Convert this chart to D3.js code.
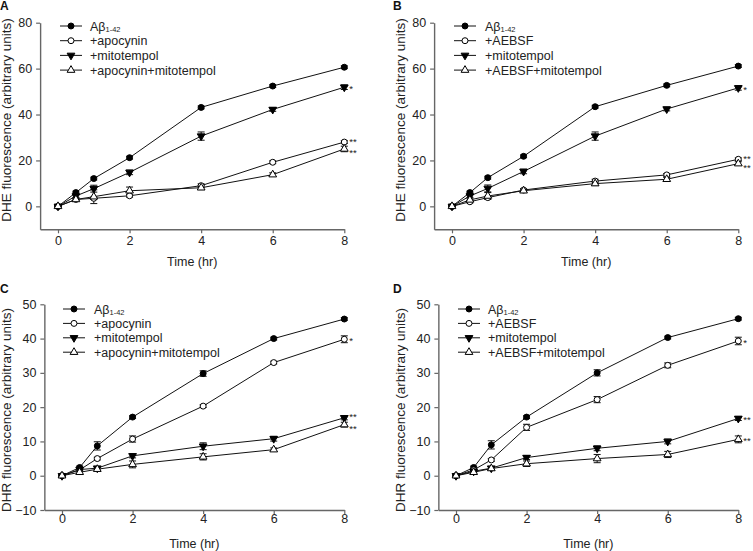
<!DOCTYPE html>
<html><head><meta charset="utf-8">
<script src="https://cdn.jsdelivr.net/npm/d3@7"></script>
<style>
body{margin:0;background:#fff;}
svg{display:block;font-family:"Liberation Sans",Arial,sans-serif;}
</style></head>
<body><svg id="c" width="753" height="551"></svg>
<script>
// ---- data ----
const times = [0, 0.5, 1, 2, 4, 6, 8];
const xTicks = [0, 2, 4, 6, 8];
const dheTicks = [0, 20, 40, 60, 80];
const dhrTicks = [-10, 0, 10, 20, 30, 40, 50];
const panelLetters = ["A", "B", "C", "D"];
const yTitles = ["DHE fluorescence (arbitrary units)", "DHE fluorescence (arbitrary units)",
                 "DHR fluorescence (arbitrary units)", "DHR fluorescence (arbitrary units)"];
const xTitle = "Time (hr)";
const legendA = ["+apocynin", "+mitotempol", "+apocynin+mitotempol"];
const legendB = ["+AEBSF", "+mitotempol", "+AEBSF+mitotempol"];

// Panel A (DHE, apocynin)
const aAbeta   = [0, 6.0, 12.1, 21.2, 43.1, 52.4, 60.6];
const aInhib   = [0, 3.0, 3.5, 4.6, 9.0, 19.2, 28.0];
const aMito    = [0, 4.5, 7.7, 14.8, 30.6, 42.2, 51.9];
const aBoth    = [0, 3.0, 4.2, 6.8, 8.1, 13.8, 25.0];
const aAbetaE  = [0.3, 0.6, 0.6, 0.6, 0.6, 0.6, 0.6];
const aInhibE  = [0.3, 0.5, 0.5, 0.6, 0.8, 0.6, 0.6];
const aMitoE   = [0.3, 0.6, 1.5, 1.0, 1.8, 0.8, 1.0];
const aBothE   = [0.3, 0.5, 3.0, 1.6, 0.8, 0.8, 1.2];
const aStars   = ["", "**", "*", "**"];
// Panel B (DHE, AEBSF)
const bAbeta   = [0, 6.0, 12.5, 21.8, 43.4, 52.7, 61.1];
const bInhib   = [0, 2.0, 3.8, 7.1, 11.0, 13.7, 20.5];
const bMito    = [0, 4.5, 7.8, 15.2, 30.6, 42.4, 51.6];
const bBoth    = [0, 2.8, 4.5, 6.8, 9.9, 11.8, 18.6];
const bAbetaE  = [0.3, 0.6, 0.6, 0.6, 0.6, 0.6, 0.6];
const bInhibE  = [0.3, 0.5, 0.6, 0.6, 0.8, 0.6, 0.6];
const bMitoE   = [0.3, 0.6, 1.5, 1.0, 1.8, 0.8, 1.0];
const bBothE   = [0.3, 0.5, 1.5, 0.8, 0.8, 0.8, 0.8];
const bStars   = ["", "**", "*", "**"];
// Panel C (DHR, apocynin)
const cAbeta   = [0, 2.4, 8.7, 17.1, 29.8, 40.0, 45.7];
const cInhib   = [0, 1.7, 5.0, 10.7, 20.3, 33.0, 39.8];
const cMito    = [0, 1.8, 2.2, 5.8, 8.6, 10.8, 16.9];
const cBoth    = [0, 1.0, 1.9, 3.3, 5.5, 7.6, 14.9];
const cAbetaE  = [0.2, 0.4, 1.2, 0.4, 0.8, 0.4, 0.4];
const cInhibE  = [0.2, 0.4, 0.4, 0.9, 0.4, 0.4, 1.0];
const cMitoE   = [0.2, 0.4, 0.5, 0.6, 1.0, 0.7, 0.6];
const cBothE   = [0.2, 0.4, 0.5, 1.0, 0.9, 0.5, 0.7];
const cStars   = ["", "*", "**", "**"];
// Panel D (DHR, AEBSF)
const dAbeta   = [0, 2.4, 9.0, 17.1, 30.0, 40.3, 45.8];
const dInhib   = [0, 1.7, 4.6, 14.1, 22.2, 32.2, 39.3];
const dMito    = [0, 1.3, 2.2, 5.3, 8.0, 10.0, 16.7];
const dBoth    = [0, 1.0, 2.1, 3.5, 5.0, 6.2, 10.6];
const dAbetaE  = [0.2, 0.4, 1.2, 0.4, 0.9, 0.4, 0.4];
const dInhibE  = [0.2, 0.4, 0.4, 0.9, 0.9, 0.7, 1.1];
const dMitoE   = [0.2, 0.4, 0.5, 0.6, 0.7, 0.7, 0.6];
const dBothE   = [0.2, 0.4, 0.5, 0.8, 1.2, 0.9, 1.0];
const dStars   = ["", "*", "**", "**"];

// ---- layout ----
const panels = [
  {letter:0, lx:0, ly:10, x0:58, x8:344.3, yTop:22.7, yBot:229.3, yDom:[-10,80], ticks:dheTicks,
   titleX:7, titleY:120, xlabY:245, xtitleY:266, legX:60, legTextX:90, legY:26, legDy:14.7,
   names:legendA, vals:[aAbeta,aInhib,aMito,aBoth], errs:[aAbetaE,aInhibE,aMitoE,aBothE], stars:aStars},
  {letter:1, lx:393, ly:10, x0:452, x8:738.3, yTop:22.7, yBot:229.3, yDom:[-10,80], ticks:dheTicks,
   titleX:401, titleY:120, xlabY:245, xtitleY:266, legX:454, legTextX:485, legY:26, legDy:14.7,
   names:legendB, vals:[bAbeta,bInhib,bMito,bBoth], errs:[bAbetaE,bInhibE,bMitoE,bBothE], stars:bStars},
  {letter:2, lx:0, ly:293, x0:62, x8:344.3, yTop:304.3, yBot:510, yDom:[-10,50], ticks:dhrTicks,
   titleX:7, titleY:410, xlabY:523, xtitleY:548, legX:63, legTextX:94, legY:309, legDy:14.4,
   names:legendA, vals:[cAbeta,cInhib,cMito,cBoth], errs:[cAbetaE,cInhibE,cMitoE,cBothE], stars:cStars},
  {letter:3, lx:393, ly:293, x0:456, x8:738.3, yTop:304.3, yBot:510, yDom:[-10,50], ticks:dhrTicks,
   titleX:401, titleY:410, xlabY:523, xtitleY:548, legX:458, legTextX:488, legY:309, legDy:14.4,
   names:legendB, vals:[dAbeta,dInhib,dMito,dBoth], errs:[dAbetaE,dInhibE,dMitoE,dBothE], stars:dStars}
];

const svg = d3.select("#c");
const symCircle = d3.symbol().type(d3.symbolCircle).size(28)();
const symTri = d3.symbol().type(d3.symbolTriangle).size(26)();
const styles = [
  {path:symCircle, fill:"#000", rot:0},
  {path:symCircle, fill:"#fff", rot:0},
  {path:symTri, fill:"#000", rot:180},
  {path:symTri, fill:"#fff", rot:0}
];

function drawMarker(g, x, y, s) {
  g.append("path").attr("d", s.path)
    .attr("transform", `translate(${x},${y}) rotate(${s.rot})`)
    .attr("fill", s.fill).attr("stroke", "#000").attr("stroke-width", 1);
}

panels.forEach(p => {
  const perHr = (p.x8 - p.x0) / 8;
  const x = d3.scaleLinear().domain([-0.5, 8]).range([p.x0 - 0.5 * perHr, p.x8]);
  const y = d3.scaleLinear().domain(p.yDom).range([p.yBot, p.yTop]);
  const g = svg.append("g");

  // axes
  const xAxis = d3.axisBottom(x).tickValues(xTicks).tickSizeOuter(0).tickSizeInner(4).tickPadding(6).tickFormat(d3.format("d"));
  const gx = g.append("g").attr("transform", `translate(0,${p.yBot})`).call(xAxis);
  const yAxis = d3.axisLeft(y).tickValues(p.ticks).tickSizeOuter(0).tickSizeInner(4).tickPadding(4).tickFormat(d3.format("d"));
  const gy = g.append("g").attr("transform", `translate(${x(-0.5)},0)`).call(yAxis);
  [gx, gy].forEach(a => {
    a.select(".domain").attr("stroke", "#666").attr("stroke-width", 1.4);
    a.selectAll(".tick line").attr("stroke", "#666").attr("stroke-width", 1.2);
    a.selectAll(".tick text").attr("fill", "#222").style("font-size", "12.5px");
  });
  gx.selectAll(".tick text").attr("y", p.xlabY - p.yBot).attr("dy", 0);

  // titles
  g.append("text").attr("x", (x(-0.5) + p.x8) / 2).attr("y", p.xtitleY).attr("text-anchor", "middle")
    .style("font-size", "12.5px").attr("fill", "#222").text(xTitle);
  g.append("text").attr("transform", `translate(${p.titleX},${p.titleY}) rotate(-90)`)
    .attr("text-anchor", "middle").attr("dominant-baseline", "middle")
    .style("font-size", "13.5px").attr("fill", "#222").text(yTitles[p.letter]);
  g.append("text").attr("x", p.lx).attr("y", p.ly).style("font-size", "12px").style("font-weight", "bold")
    .attr("fill", "#111").text(panelLetters[p.letter]);

  // series
  const line = d3.line().x((d, i) => x(times[i])).y(d => y(d));
  p.vals.forEach(vals => {
    g.append("path").datum(vals).attr("d", line).attr("fill", "none").attr("stroke", "#111").attr("stroke-width", 1);
  });
  p.vals.forEach((vals, si) => {
    const errs = p.errs[si];
    vals.forEach((v, i) => {
      const cx = x(times[i]);
      const e = errs[i];
      g.append("line").attr("x1", cx).attr("x2", cx).attr("y1", y(v - e)).attr("y2", y(v + e)).attr("stroke", "#111");
      [v - e, v + e].forEach(ev => g.append("line").attr("x1", cx - 3.5).attr("x2", cx + 3.5)
        .attr("y1", y(ev)).attr("y2", y(ev)).attr("stroke", "#111"));
    });
  });
  // stars: ordered by end value so close pairs are nudged apart
  const starItems = p.vals.map((vals, si) => ({si, v: vals[6]})).filter(d => p.stars[d.si]).sort((a, b) => b.v - a.v);
  starItems.forEach((d, k) => {
    let yy = y(d.v) + 5;
    if (k > 0 && y(d.v) - y(starItems[k - 1].v) < 8) yy += 2.5;
    if (k < starItems.length - 1 && y(starItems[k + 1].v) - y(d.v) < 8) yy -= 2.5;
    g.append("text").attr("x", x(8) + 5).attr("y", yy).style("font-size", "9.5px")
      .attr("fill", "#222").text(p.stars[d.si]);
  });
  p.vals.forEach((vals, si) => {
    vals.forEach((v, i) => drawMarker(g, x(times[i]), y(v), styles[si]));
  });

  // legend
  for (let k = 0; k < 4; k++) {
    const ly = p.legY + k * p.legDy;
    g.append("line").attr("x1", p.legX).attr("x2", p.legX + 22).attr("y1", ly).attr("y2", ly)
      .attr("stroke", "#111").attr("stroke-width", 1);
    drawMarker(g, p.legX + 11, ly, styles[k]);
    const t = g.append("text").attr("x", p.legTextX).attr("y", ly + 4.5).style("font-size", "12.5px").attr("fill", "#222");
    if (k === 0) {
      t.append("tspan").text("Aβ");
      t.append("tspan").attr("dy", 1.5).style("font-size", "7.5px").text("1-42");
    } else {
      t.text(p.names[k - 1]);
    }
  }
});
</script></body></html>
